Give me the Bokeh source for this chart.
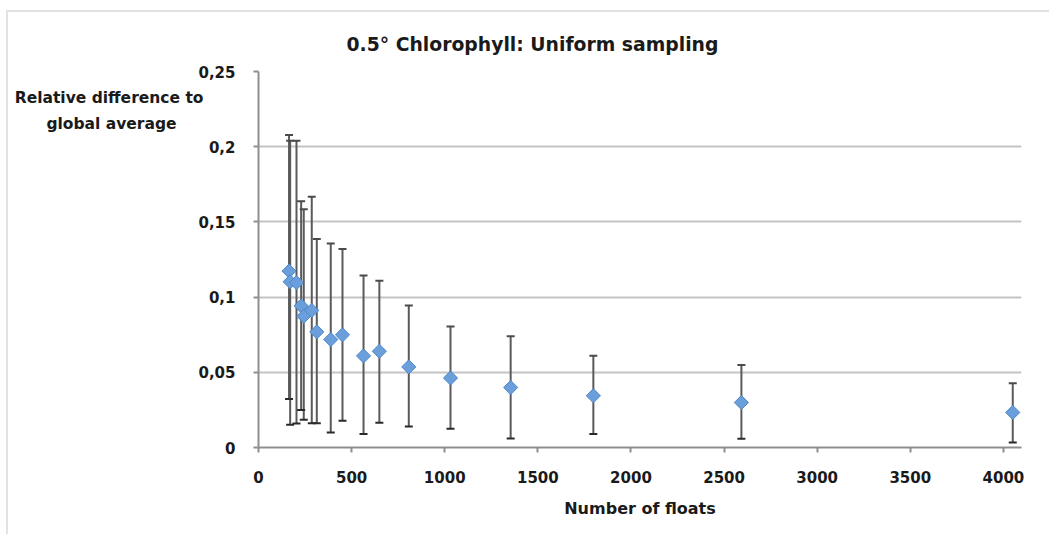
import numpy as np
from bokeh.plotting import figure
from bokeh.models import (ColumnDataSource, Whisker, TeeHead, FixedTicker,
                          Range1d)
from bokeh.embed import file_html
from bokeh.resources import INLINE

# ---- data ----
num_floats = [164, 170, 204, 229, 243, 286, 313, 388, 451, 564, 649, 807,
              1031, 1354, 1798, 2593, 4050]
rel_diff = [0.1173, 0.1102, 0.1096, 0.0942, 0.0873, 0.0911, 0.0769, 0.0718,
            0.0749, 0.0609, 0.0640, 0.0536, 0.0462, 0.0399, 0.0344, 0.0299,
            0.0233]
err_upper = [0.2078, 0.2040, 0.2040, 0.1638, 0.1584, 0.1667, 0.1387, 0.1356,
             0.1320, 0.1144, 0.1109, 0.0944, 0.0804, 0.0739, 0.0610, 0.0549,
             0.0428]
err_lower = [0.0322, 0.0151, 0.0160, 0.0249, 0.0184, 0.0162, 0.0162, 0.0100,
             0.0178, 0.0089, 0.0164, 0.0140, 0.0124, 0.0060, 0.0089, 0.0058,
             0.0033]

x_ticks = [0, 500, 1000, 1500, 2000, 2500, 3000, 3500, 4000]
y_ticks = [0, 0.05, 0.1, 0.15, 0.2, 0.25]
y_tick_labels = ["0", "0,05", "0,1", "0,15", "0,2", "0,25"]

title_text = "0.5° Chlorophyll: Uniform sampling"
y_title_lines = ["Relative difference to", "global average"]
x_title = "Number of floats"

FONT = "DejaVu Sans"
TXT = "#1a1a1a"

source = ColumnDataSource(dict(x=num_floats, y=rel_diff,
                               upper=err_upper, lower=err_lower))

p = figure(width=1043, height=524, output_backend="svg", toolbar_location=None,
           x_range=Range1d(0, 4097), y_range=Range1d(0, 0.25),
           min_border_left=250, min_border_right=30,
           min_border_top=59, min_border_bottom=89, title=title_text)
p.styles = {"margin-left": "6px", "margin-top": "10px",
            "border-left": "2px solid #e2e2e2",
            "border-top": "2px solid #e2e2e2"}
p.outline_line_color = None
p.background_fill_color = "white"
p.border_fill_color = "white"

# title
p.title.align = "left"
p.title.offset = 88
p.title.standoff = 34
p.title.text_font = FONT
p.title.text_font_style = "bold"
p.title.text_font_size = "18.8px"
p.title.text_color = TXT

# axes
p.xaxis.ticker = FixedTicker(ticks=x_ticks)
p.yaxis.ticker = FixedTicker(ticks=y_ticks)
p.yaxis.major_label_overrides = {t: l for t, l in zip(y_ticks, y_tick_labels)}
for ax in (p.xaxis[0], p.yaxis[0]):
    ax.axis_line_color = "#8f8f8f"
    ax.axis_line_width = 2
    ax.major_tick_line_color = "#8f8f8f"
    ax.major_tick_line_width = 2
    ax.major_tick_out = 5
    ax.major_tick_in = 0
    ax.minor_tick_line_color = None
    ax.major_label_text_font = FONT
    ax.major_label_text_font_style = "bold"
    ax.major_label_text_font_size = "15px"
    ax.major_label_text_color = TXT
    ax.axis_label_text_font = FONT
    ax.axis_label_text_font_style = "bold"
    ax.axis_label_text_color = TXT
p.xaxis.major_label_standoff = 18
p.yaxis.major_label_standoff = 18
p.xaxis.axis_label = x_title
p.xaxis.axis_label_text_font_size = "16px"
p.xaxis.axis_label_standoff = 13

# horizontal y-axis title at the top of the axis; blank lines push the two
# text lines below the top of the frame, and non-breaking spaces centre the
# second line under the first, as in the reference
NBSP = "\u00a0"
p.yaxis.axis_label = "\n".join([" ", " ", " ", y_title_lines[0],
                                y_title_lines[1] + NBSP * 5])
p.yaxis.axis_label_text_font_size = "15.5px"
p.yaxis.axis_label_text_line_height = 1.45
p.yaxis.axis_label_text_align = "center"
p.yaxis.axis_label_orientation = "horizontal"
p.yaxis.axis_label_align = "end"
p.yaxis.axis_label_standoff = -8

# grid
p.xgrid.visible = False
p.ygrid.grid_line_color = "#c4c4c4"
p.ygrid.grid_line_width = 2

# error bars
wh = Whisker(base="x", upper="upper", lower="lower", source=source,
             dimension="height", line_color="#5a5a5a", line_width=2,
             upper_head=TeeHead(size=8, line_color="#4a4a4a", line_width=2),
             lower_head=TeeHead(size=8, line_color="#2a2a2a", line_width=2))
wh.level = "underlay"
p.add_layout(wh)

# markers
p.scatter("x", "y", source=source, marker="square", angle=np.pi / 4,
          size=10, fill_color="#6a9fdb", line_color="#4f87c8", line_width=1)

open("out.html", "w").write(file_html(p, INLINE))
